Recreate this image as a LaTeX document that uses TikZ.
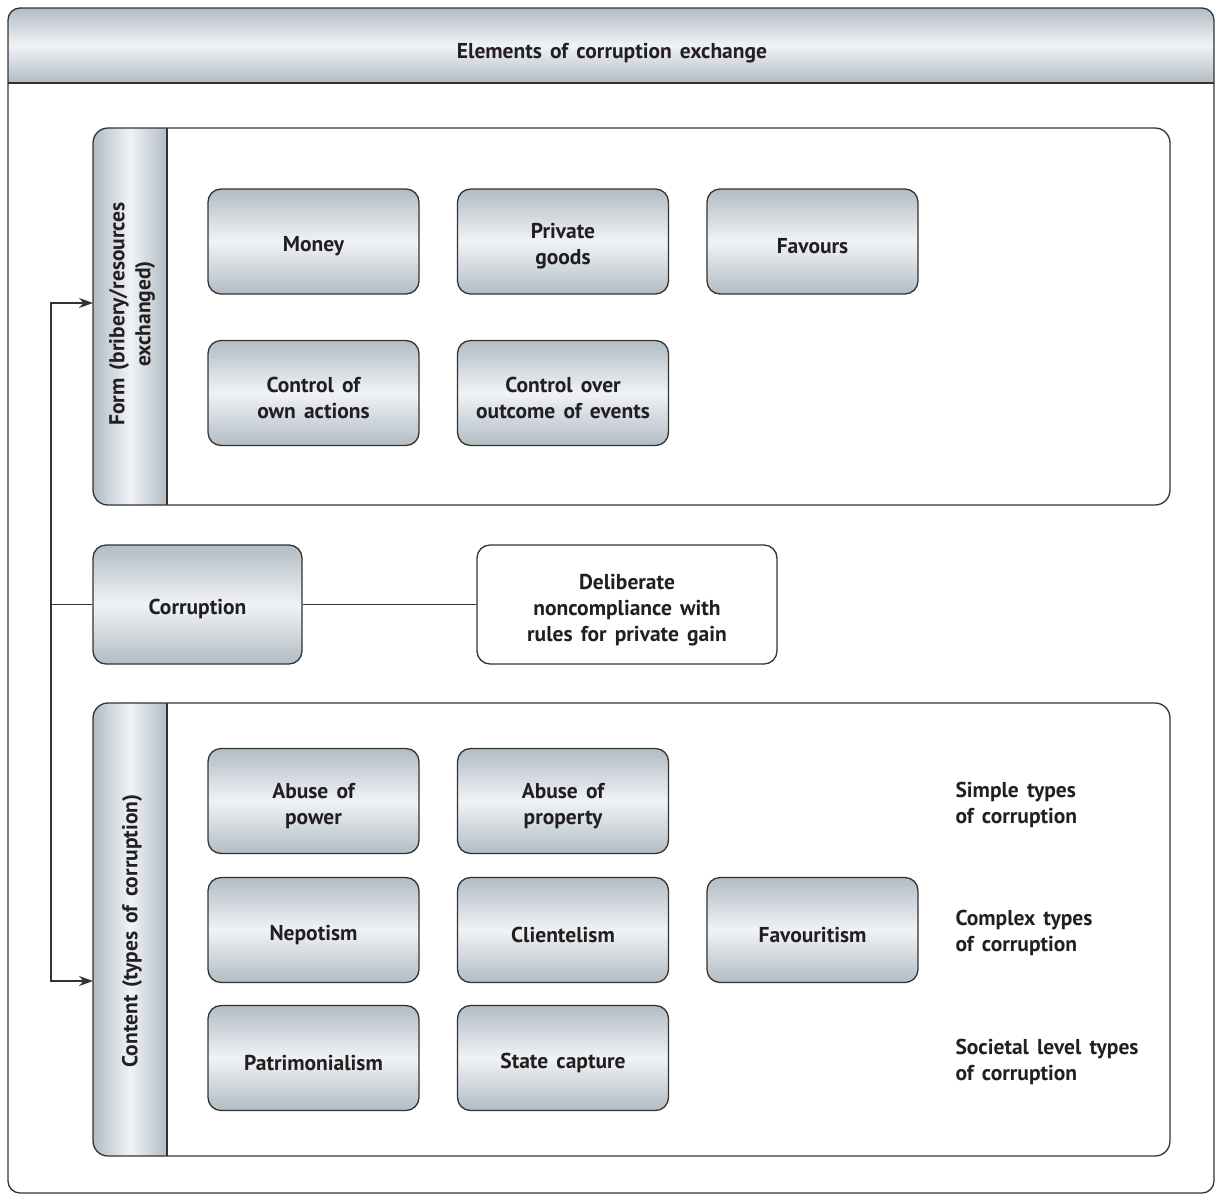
\documentclass[tikz,border=0pt]{standalone}
\usepackage{fontspec}
\setmainfont{PT Sans}[WordSpace=1.5]
\usetikzlibrary{arrows.meta}
\definecolor{steel}{HTML}{B2BCC4}
\definecolor{steellight}{HTML}{F0F3F6}
\definecolor{ink}{HTML}{231F20}
\definecolor{edge}{HTML}{333333}
\newcommand{\labelfont}{\bfseries\fontsize{21.5}{26}\selectfont}
\tikzset{
  frame/.style={draw=edge, line width=1.3pt},
  boxtext/.style={align=center, text=ink, font=\labelfont, text height=25pt},
  twolines/.style={text height=51.5pt},
  item/.style={frame, rounded corners=13pt, minimum width=211pt, minimum height=105pt,
    top color=steel, bottom color=steel, middle color=steellight, boxtext},
  note/.style={align=left, anchor=west, text=ink, font=\labelfont},
  bandtext/.style={rotate=90, align=center, text=ink, font=\labelfont},
  link/.style={draw=edge, line width=1.3pt},
  arr/.style={link, -{Stealth[length=14pt,width=10pt]}}
}
\begin{document}
\begin{tikzpicture}[x=1pt,y=-1pt]
\useasboundingbox (0,0) rectangle (1215,1195);

% outer frame with shaded title bar
\begin{scope}
  \clip[rounded corners=12pt] (8,8) rectangle (1214,1193);
  \shade[top color=steel, bottom color=steel, middle color=steellight] (8,8) rectangle (1214,83);
\end{scope}
\draw[frame] (8,83) -- (1214,83);
\draw[frame, rounded corners=12pt] (8,8) rectangle (1214,1193);
\node[text=ink, font=\labelfont] (title) at (612,53) {Elements of corruption exchange};

% form panel
\begin{scope}
  \clip[rounded corners=15pt] (93,128) rectangle (1170,505);
  \shade[left color=steel, right color=steel, middle color=steellight] (93,128) rectangle (167,505);
\end{scope}
\draw[frame] (167,128) -- (167,505);
\draw[frame, rounded corners=15pt] (93,128) rectangle (1170,505);
\node[bandtext] (formband) at (132,314) {Form (bribery/resources\\exchanged)};

% content panel
\begin{scope}
  \clip[rounded corners=15pt] (93,703) rectangle (1170,1156);
  \shade[left color=steel, right color=steel, middle color=steellight] (93,703) rectangle (167,1156);
\end{scope}
\draw[frame] (167,703) -- (167,1156);
\draw[frame, rounded corners=15pt] (93,703) rectangle (1170,1156);
\node[bandtext] (contentband) at (132,931) {Content (types of corruption)};

% forms of exchange
\node[item] (money) at (313.5,241.5) {Money};
\node[item, twolines] (goods) at (563,241.5) {Private\\goods};
\node[item] (favours) at (812.5,241.5) {Favours};
\node[item, twolines] (ownact) at (313.5,393) {Control of\\own actions};
\node[item, twolines] (events) at (563,393) {Control over\\outcome of events};

% corruption and its definition
\node[item, minimum width=209pt, minimum height=119pt] (corr) at (197.5,604.5) {Corruption};
\node[frame, rounded corners=13pt, minimum width=300pt, minimum height=119pt, fill=white,
  boxtext, text height=79.5pt] (def) at (627,604.5)
  {Deliberate\\noncompliance with\\rules for private gain};

% types of corruption
\node[item, twolines] (power) at (313.5,801) {Abuse of\\power};
\node[item, twolines] (property) at (563,801) {Abuse of\\property};
\node[item] (nepotism) at (313.5,930) {Nepotism};
\node[item] (client) at (563,930) {Clientelism};
\node[item] (favourit) at (812.5,930) {Favouritism};
\node[item] (patrimon) at (313.5,1058) {Patrimonialism};
\node[item] (capture) at (563,1058) {State capture};

\node[note] (simple) at (952,805) {Simple types\\of corruption};
\node[note] (complex) at (952,933) {Complex types\\of corruption};
\node[note] (societal) at (952,1062) {Societal level types\\of corruption};

% connectors
\coordinate (jn) at (51,604.5);
\coordinate (formin) at (93,303);
\coordinate (contin) at (93,981);
\draw[link] (corr.east) -- (def.west);
\draw[link] (corr.west) -- (jn);
\draw[arr] (jn) |- (formin);
\draw[arr] (jn) |- (contin);
\end{tikzpicture}
\end{document}
